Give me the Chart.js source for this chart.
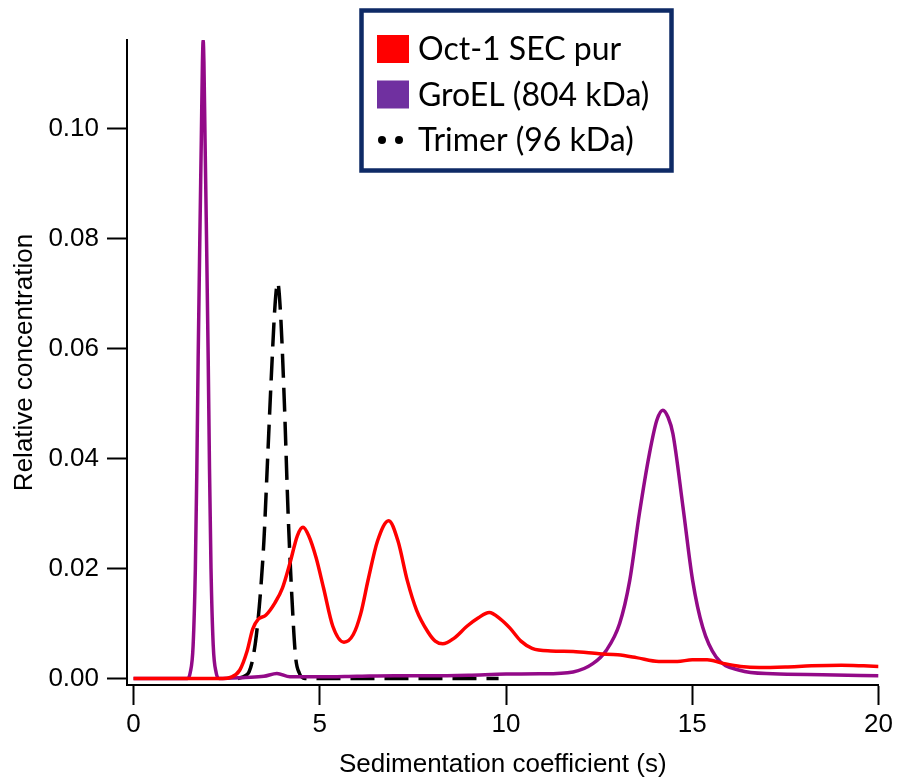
<!DOCTYPE html>
<html>
<head>
<meta charset="utf-8">
<script src="https://cdn.jsdelivr.net/npm/chart.js@4.4.1/dist/chart.umd.min.js"></script>
<style>
  html, body { margin: 0; padding: 0; background: #fff; overflow: hidden; }
  canvas { display: block; }
</style>
</head>
<body>
<canvas id="sedChart" width="897" height="778"></canvas>
<script>
// Oct-1 SEC pur
const octX = [0, 2.4, 2.6, 2.85, 3.05, 3.2, 3.35, 3.55, 3.8, 4.0, 4.2, 4.4, 4.55, 4.7, 4.9, 5.1, 5.35, 5.65, 5.9, 6.1, 6.3, 6.55, 6.85, 7.1, 7.35, 7.6, 7.9, 8.1, 8.3, 8.6, 8.95, 9.25, 9.55, 9.85, 10.1, 10.4, 10.7, 11.2, 11.8, 12.5, 13.0, 13.5, 14.1, 14.6, 15.0, 15.4, 15.8, 16.3, 16.8, 17.5, 18.2, 19.0, 19.6, 20];
const octY = [0, 0, 0.0002, 0.0015, 0.005, 0.009, 0.0108, 0.0115, 0.0138, 0.0165, 0.021, 0.026, 0.0275, 0.026, 0.022, 0.0165, 0.0095, 0.0066, 0.008, 0.0118, 0.018, 0.025, 0.0287, 0.025, 0.0178, 0.0124, 0.0085, 0.0068, 0.0063, 0.0073, 0.0095, 0.011, 0.012, 0.0108, 0.0092, 0.0068, 0.0055, 0.005, 0.0049, 0.0045, 0.0043, 0.0038, 0.0031, 0.0031, 0.0034, 0.0034, 0.0028, 0.0022, 0.002, 0.0021, 0.0023, 0.0024, 0.0023, 0.0022];

// GroEL (804 kDa)
const groX = [0, 1.45, 1.52, 1.6, 1.66, 1.7, 1.735, 1.78, 1.82, 1.85, 1.87, 1.89, 1.92, 1.96, 2.005, 2.04, 2.08, 2.14, 2.22, 2.3, 3.0, 3.5, 3.85, 4.2, 5, 6, 7, 8, 9, 10, 10.9, 11.8, 12.33, 12.69, 13.05, 13.32, 13.58, 13.85, 14.05, 14.21, 14.35, 14.48, 14.75, 15.01, 15.28, 15.64, 16.27, 17.16, 18.5, 20];
const groY = [0, 0, 0.001, 0.006, 0.02, 0.038, 0.058, 0.08, 0.098, 0.112, 0.116, 0.112, 0.098, 0.08, 0.058, 0.038, 0.02, 0.006, 0.001, 0, 0.0002, 0.0004, 0.0009, 0.0003, 0.0003, 0.0004, 0.0005, 0.0005, 0.0006, 0.0008, 0.00085, 0.0012, 0.0027, 0.0051, 0.01, 0.0178, 0.030, 0.0409, 0.047, 0.0488, 0.0475, 0.0445, 0.0312, 0.0178, 0.0093, 0.0039, 0.0015, 0.00085, 0.0007, 0.0005];

// Trimer (96 kDa)
const triX = [2.8, 3.0, 3.1, 3.2, 3.3, 3.4, 3.5, 3.6, 3.7, 3.8, 3.87, 3.95, 4.05, 4.15, 4.25, 4.35, 4.45, 4.6, 5, 6, 7, 8, 9, 9.8];
const triY = [0, 0.0005, 0.0012, 0.0035, 0.008, 0.015, 0.025, 0.04, 0.055, 0.068, 0.072, 0.066, 0.05, 0.03, 0.015, 0.004, 0.001, 0, 0, 0, 0, 0, 0, 0];

const xTicks = [0, 5, 10, 15, 20];
const yTicks = [0, 0.02, 0.04, 0.06, 0.08, 0.10];

function toPoints(xs, ys) {
    return xs.map((x, i) => ({ x: x, y: ys[i] }));
}

const axisFont = { family: 'Liberation Sans', size: 26 };

// draws the boxed legend inside the plot, like the original
const boxLegend = {
    id: 'boxLegend',
    afterDraw(chart) {
        const ctx = chart.ctx;
        ctx.save();
        ctx.fillStyle = '#fff';
        ctx.fillRect(361.5, 10.5, 310, 160);
        ctx.strokeStyle = '#0E2A66';
        ctx.lineWidth = 4.5;
        ctx.strokeRect(361.5, 10.5, 310, 160);
        ctx.font = '32px Lato';
        ctx.textBaseline = 'middle';
        chart.data.datasets.forEach((ds, i) => {
            const cy = 49 + i * 45.5;
            if (ds.borderDash && ds.borderDash.length) {
                ctx.fillStyle = '#000';
                [382, 399].forEach(cx => {
                    ctx.beginPath();
                    ctx.arc(cx, cy, 4, 0, Math.PI * 2);
                    ctx.fill();
                });
            } else {
                ctx.fillStyle = ds.legendColor;
                ctx.fillRect(377, cy - 14, 32, 28);
            }
            ctx.fillStyle = '#000';
            ctx.fillText(ds.label, 418, cy + 1);
        });
        ctx.restore();
    }
};

const ctx = document.getElementById('sedChart').getContext('2d');
const chart = new Chart(ctx, {
    type: 'line',
    data: {
        datasets: [{
            label: 'Oct-1 SEC pur',
            data: toPoints(octX, octY),
            borderColor: '#FF0000',
            legendColor: '#FF0000',
            borderWidth: 3.5,
            pointRadius: 0,
            cubicInterpolationMode: 'monotone'
        },
        {
            label: 'GroEL (804 kDa)',
            data: toPoints(groX, groY),
            borderColor: '#930A88',
            legendColor: '#7030A0',
            borderWidth: 3.5,
            pointRadius: 0,
            cubicInterpolationMode: 'monotone'
        },
        {
            label: 'Trimer (96 kDa)',
            data: toPoints(triX, triY),
            borderColor: '#000000',
            borderDash: [24, 10],
            borderWidth: 3.5,
            pointRadius: 0,
            cubicInterpolationMode: 'monotone'
        }]
    },
    options: {
        responsive: false,
        animation: false,
        devicePixelRatio: 1,
        layout: {
            padding: { top: 40, right: 18, left: 0, bottom: 0 }
        },
        plugins: {
            legend: { display: false },
            tooltip: { enabled: false }
        },
        scales: {
            x: {
                type: 'linear',
                min: -0.175,
                max: 20,
                afterBuildTicks: scale => { scale.ticks = xTicks.map(v => ({ value: v })); },
                afterFit: scale => { scale.height = 93; },
                grid: {
                    drawOnChartArea: false,
                    tickLength: 20,
                    tickWidth: 2,
                    color: '#000'
                },
                border: { display: true, color: '#000', width: 2 },
                ticks: {
                    color: '#000',
                    font: axisFont,
                    padding: 4,
                    maxRotation: 0,
                    callback: v => String(v)
                },
                title: {
                    display: true,
                    text: 'Sedimentation coefficient (s)',
                    color: '#000',
                    font: axisFont,
                    padding: { top: 0, bottom: -2 }
                }
            },
            y: {
                min: -0.00118,
                max: 0.1161,
                afterBuildTicks: scale => { scale.ticks = yTicks.map(v => ({ value: v })); },
                afterFit: scale => { scale.width = 127; },
                grid: {
                    drawOnChartArea: false,
                    tickLength: 20,
                    tickWidth: 2,
                    color: '#000'
                },
                border: { display: true, color: '#000', width: 2 },
                ticks: {
                    color: '#000',
                    font: axisFont,
                    padding: 8,
                    callback: v => v.toFixed(2)
                },
                title: {
                    display: true,
                    text: 'Relative concentration',
                    color: '#000',
                    font: axisFont,
                    padding: { top: 9, bottom: 0 }
                }
            }
        }
    },
    plugins: [boxLegend]
});
</script>
</body>
</html>
